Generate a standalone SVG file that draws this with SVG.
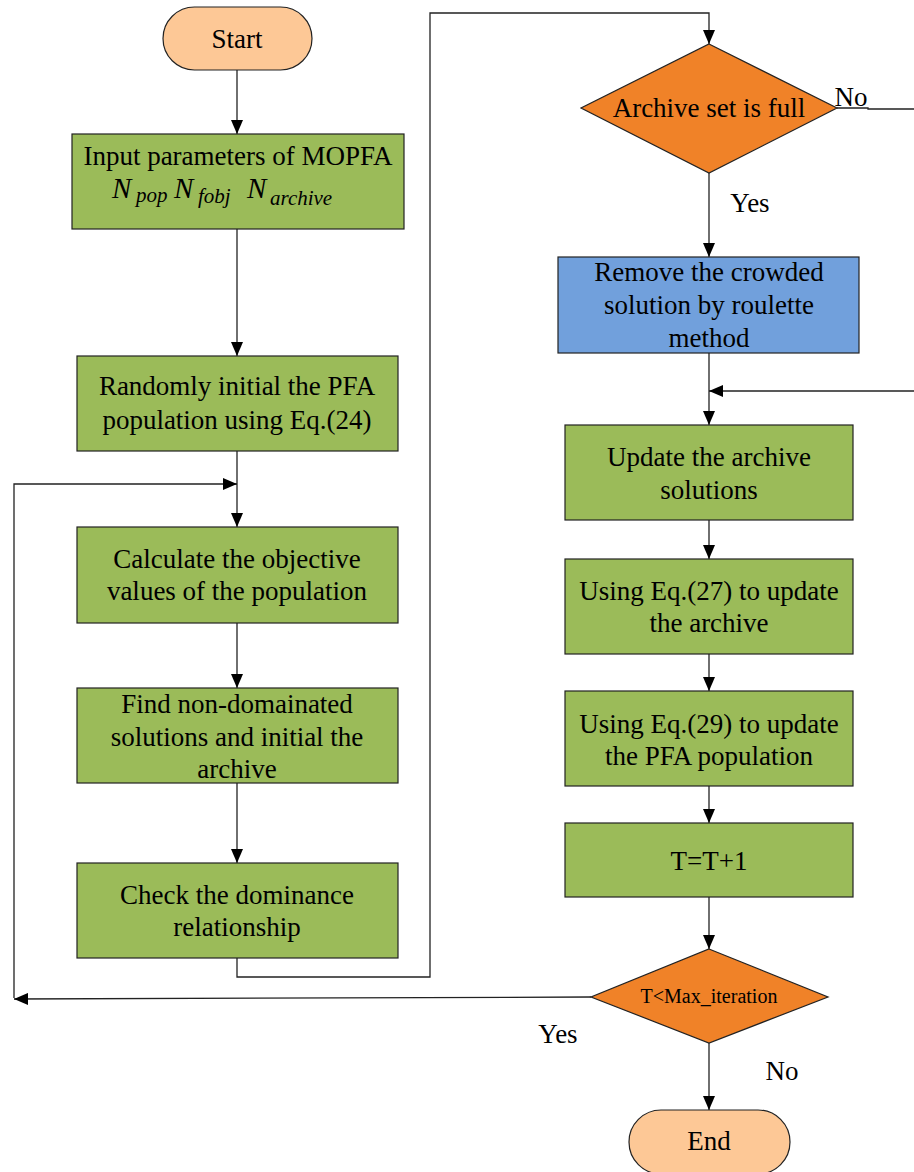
<svg xmlns="http://www.w3.org/2000/svg" width="914" height="1172" viewBox="0 0 914 1172">
<defs>
<style>
.g{fill:#9bbb59;stroke:#222;stroke-width:1.2}
.b{fill:#71a0dc;stroke:#222;stroke-width:1.2}
.o{fill:#f08228;stroke:#222;stroke-width:1.2}
.p{fill:#fdc896;stroke:#222;stroke-width:1.2}
.t{font-family:"Liberation Serif","Times New Roman",serif;font-size:27px;fill:#000;text-anchor:middle}
.n{font-family:"Liberation Serif","Times New Roman",serif;font-style:italic;fill:#000}
.ln{fill:none;stroke:#222;stroke-width:1.3}
</style>
<marker id="ah2" viewBox="0 0 14 12" refX="14" refY="6" markerWidth="14" markerHeight="12" markerUnits="userSpaceOnUse" orient="auto"><path d="M0,0 L14,6 L0,12 z" fill="#000"/></marker>
</defs>
<g id="connectors">
<line class="ln" x1="237" y1="70" x2="237" y2="134" marker-end="url(#ah2)"/>
<line class="ln" x1="237" y1="229" x2="237" y2="356" marker-end="url(#ah2)"/>
<line class="ln" x1="237" y1="451" x2="237" y2="527" marker-end="url(#ah2)"/>
<polyline class="ln" points="14,998 14,484 237,484" marker-end="url(#ah2)"/>
<line class="ln" x1="237" y1="623" x2="237" y2="688" marker-end="url(#ah2)"/>
<line class="ln" x1="237" y1="783" x2="237" y2="863" marker-end="url(#ah2)"/>
<polyline class="ln" points="237,958 237,977 430,977 430,13 709,13 709,44" marker-end="url(#ah2)"/>
<polyline class="ln" points="837,108 868,108 868,109 914,109"/>
<line class="ln" x1="709" y1="173" x2="709" y2="257" marker-end="url(#ah2)"/>
<line class="ln" x1="709" y1="353" x2="709" y2="425" marker-end="url(#ah2)"/>
<line class="ln" x1="914" y1="391" x2="709" y2="391" marker-end="url(#ah2)"/>
<line class="ln" x1="709" y1="520" x2="709" y2="559" marker-end="url(#ah2)"/>
<line class="ln" x1="709" y1="654" x2="709" y2="691" marker-end="url(#ah2)"/>
<line class="ln" x1="709" y1="786" x2="709" y2="823" marker-end="url(#ah2)"/>
<line class="ln" x1="709" y1="897" x2="709" y2="949" marker-end="url(#ah2)"/>
<line class="ln" x1="591" y1="997" x2="14" y2="999" marker-end="url(#ah2)"/>
<line class="ln" x1="709" y1="1043" x2="709" y2="1110" marker-end="url(#ah2)"/>
</g>
<g id="start"><rect class="p" x="163" y="7" width="149" height="63" rx="31.5"/><text class="t" x="237" y="48">Start</text></g>
<g id="input"><rect class="g" x="72" y="134" width="332" height="95"/>
<text class="t" x="238" y="165">Input parameters of MOPFA</text>
<text class="n" font-size="29" x="112" y="198">N</text><text class="n" font-size="21" x="136" y="202">pop</text>
<text class="n" font-size="29" x="174" y="198">N</text><text class="n" font-size="21" x="198" y="203">fobj</text>
<text class="n" font-size="29" x="247" y="198">N</text><text class="n" font-size="21" x="270" y="205">archive</text></g>
<g id="randomly"><rect class="g" x="77" y="356" width="321" height="95"/><text class="t" x="237" y="395">Randomly initial the PFA</text><text class="t" x="237" y="429">population using Eq.(24)</text></g>
<g id="calculate"><rect class="g" x="77" y="527" width="321" height="96"/><text class="t" x="237" y="568">Calculate the objective</text><text class="t" x="237" y="600">values of the population</text></g>
<g id="find"><rect class="g" x="77" y="688" width="321" height="95"/><text class="t" x="237" y="713">Find non-domainated</text><text class="t" x="237" y="746">solutions and initial the</text><text class="t" x="237" y="778">archive</text></g>
<g id="check"><rect class="g" x="77" y="863" width="321" height="95"/><text class="t" x="237" y="904">Check the dominance</text><text class="t" x="237" y="936">relationship</text></g>
<g id="archivefull"><polygon class="o" points="709,44 837,108 709,173 581,108"/><text class="t" x="709" y="117">Archive set is full</text></g>
<text class="t" x="851" y="106">No</text>
<text class="t" x="750" y="212">Yes</text>
<g id="remove"><rect class="b" x="558" y="257" width="301" height="96"/><text class="t" x="709" y="281">Remove the crowded</text><text class="t" x="709" y="314">solution by roulette</text><text class="t" x="709" y="347">method</text></g>
<g id="update"><rect class="g" x="565" y="425" width="288" height="95"/><text class="t" x="709" y="466">Update the archive</text><text class="t" x="709" y="499">solutions</text></g>
<g id="eq27"><rect class="g" x="565" y="559" width="288" height="95"/><text class="t" x="709" y="600">Using Eq.(27) to update</text><text class="t" x="709" y="632">the archive</text></g>
<g id="eq29"><rect class="g" x="565" y="691" width="288" height="95"/><text class="t" x="709" y="733">Using Eq.(29) to update</text><text class="t" x="709" y="765">the PFA population</text></g>
<g id="tinc"><rect class="g" x="565" y="823" width="288" height="74"/><text class="t" x="709" y="870">T=T+1</text></g>
<g id="tmax"><polygon class="o" points="709,949 828,997 709,1043 591,997"/><text class="t" x="709" y="1003" style="font-size:20px">T&lt;Max_iteration</text></g>
<text class="t" x="558" y="1043">Yes</text>
<text class="t" x="782" y="1080">No</text>
<g id="end"><rect class="p" x="629" y="1110" width="161" height="64" rx="32"/><text class="t" x="709" y="1150">End</text></g>
</svg>
